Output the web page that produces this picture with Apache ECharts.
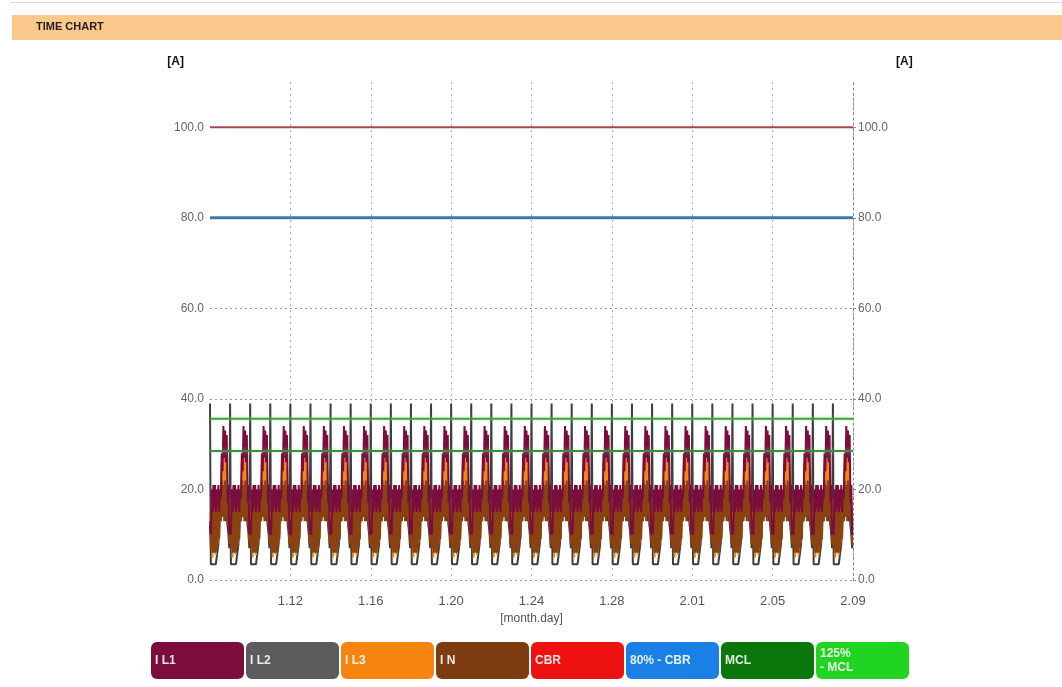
<!DOCTYPE html>
<html>
<head>
<meta charset="utf-8">
<title>Time chart</title>
<script src="https://cdn.jsdelivr.net/npm/echarts@6/dist/echarts.min.js"></script>
<style>
  html, body { margin: 0; padding: 0; background: #fff; }
  #chart { width: 1062px; height: 687px; }
</style>
</head>
<body>
<div id="chart"></div>
<script>
// time axis: one label every 4 days, starting at 1.08 (hidden)
const xTickLabels = ['1.08', '1.12', '1.16', '1.20', '1.24', '1.28', '2.01', '2.05', '2.09']
const dayCount = 32

// one day of current, hour 0..23 (every day looks the same)
const il1Day = [12, 10, 20, 15, 21, 16, 21, 15, 20, 16, 21, 15, 20, 18, 28, 24, 34, 27, 33, 26, 32, 17, 21, 10]
const il2Day = [39, 3.5, 3.5, 3.5, 3.5, 3.5, 3.5, 3.5, 3.5, 3.5, 8, 12, 15, 13, 18, 14, 20, 16, 19, 13, 17, 12, 10, 7]
const il3Day = [15, 9, 18, 5, 19, 8, 17, 5.5, 19, 8, 18, 10, 20, 16, 26, 19, 28, 18, 27, 19, 25, 14, 18, 9]
const inDay = [13, 7, 17, 6, 18, 6, 16, 6, 18, 7, 17, 9, 19, 13, 22, 14, 21, 13, 22, 14, 20, 12, 17, 8]

// limits [A]
const cbr = 100
const cbr80 = 80
const mcl = 28.5
const mcl125 = 35.6

const legendItems = [
  { name: 'I L1', color: '#7b0c3c' },
  { name: 'I L2', color: '#5c5c5c' },
  { name: 'I L3', color: '#f5850f' },
  { name: 'I N', color: '#7c3c10' },
  { name: 'CBR', color: '#ee1111' },
  { name: '80% - CBR', color: '#1a80e6' },
  { name: 'MCL', color: '#0b760b' },
  { name: '125% - MCL', color: '#22d422' }
]

function buildDays (profile) {
  const out = []
  for (let d = 0; d < dayCount; d++) {
    profile.forEach((v, h) => out.push([d + h / 24, v]))
  }
  return out
}

function limitLine (v) {
  return [[0, v], [dayCount, v]]
}

const chart = echarts.init(document.getElementById('chart'))

const axisFont = { fontFamily: 'Liberation Sans', fontSize: 12, color: '#666' }

chart.setOption({
  animation: false,
  grid: { left: 210, right: 209, top: 82, bottom: 107 },
  graphic: [
    { type: 'rect', shape: { x: 10, y: 2, width: 1052, height: 1 }, style: { fill: '#dddddd' } },
    { type: 'rect', shape: { x: 12, y: 15, width: 1050, height: 25 }, style: { fill: '#fbc88b' } },
    {
      type: 'text',
      left: 36,
      top: 21,
      style: { text: 'TIME CHART', font: 'bold 11px Liberation Sans', fill: '#222' }
    }
  ],
  legend: {
    left: 141,
    top: 637,
    icon: 'none',
    itemWidth: 0,
    itemGap: -3,
    selectedMode: false,
    formatter: name => name === '125% - MCL' ? '125%\n- MCL' : name,
    textStyle: {
      width: 85,
      height: 37,
      lineHeight: 14,
      padding: [0, 4],
      borderRadius: 6,
      color: 'rgba(255,255,255,0.88)',
      fontWeight: 'bold',
      fontSize: 12,
      fontFamily: 'Liberation Sans'
    },
    data: legendItems.map(it => ({ name: it.name, textStyle: { backgroundColor: it.color } }))
  },
  xAxis: {
    type: 'value',
    min: 0,
    max: dayCount,
    interval: 4,
    name: '[month.day]',
    nameLocation: 'middle',
    nameGap: 33,
    nameTextStyle: { ...axisFont, color: '#555' },
    axisLine: { show: false },
    axisTick: { show: false },
    axisLabel: {
      ...axisFont,
      fontSize: 13,
      color: '#555',
      margin: 15,
      showMinLabel: false,
      formatter: v => xTickLabels[Math.round(v / 4)]
    },
    splitLine: { show: true, showMinLine: false, lineStyle: { color: '#aaa', type: [2, 4] } }
  },
  yAxis: [
    {
      type: 'value',
      min: 0,
      max: 110,
      interval: 20,
      name: '[A]',
      nameGap: 14,
      nameTextStyle: { fontFamily: 'Liberation Sans', fontWeight: 'bold', fontSize: 12, color: '#111', align: 'right', padding: [0, 26, 0, 0] },
      axisLine: { show: false },
      axisTick: { show: false },
      axisLabel: { ...axisFont, margin: 6, showMaxLabel: false, formatter: v => v.toFixed(1) },
      splitLine: { show: true, showMaxLine: false, lineStyle: { color: '#999', type: [2, 3] } }
    },
    {
      type: 'value',
      min: 0,
      max: 110,
      interval: 20,
      position: 'right',
      name: '[A]',
      nameGap: 14,
      nameTextStyle: { fontFamily: 'Liberation Sans', fontWeight: 'bold', fontSize: 12, color: '#111', align: 'left', padding: [0, 0, 0, 43] },
      axisLine: { show: true, lineStyle: { color: '#888', type: [2, 3] } },
      axisTick: { show: true, length: 3, lineStyle: { color: '#888' } },
      axisLabel: { ...axisFont, margin: 5, showMaxLabel: false, formatter: v => v.toFixed(1) },
      splitLine: { show: false }
    }
  ],
  series: [
    { name: 'I L2', type: 'line', data: buildDays(il2Day), showSymbol: false, lineStyle: { width: 2, color: '#3e3e3e' }, itemStyle: { color: '#5c5c5c' } },
    { name: 'I L3', type: 'line', data: buildDays(il3Day), showSymbol: false, lineStyle: { width: 2, color: '#f08818' }, itemStyle: { color: '#f5850f' } },
    { name: 'I N', type: 'line', data: buildDays(inDay), showSymbol: false, lineStyle: { width: 2, color: '#8a4210' }, itemStyle: { color: '#7c3c10' } },
    { name: 'I L1', type: 'line', data: buildDays(il1Day), showSymbol: false, lineStyle: { width: 2, color: '#7b0c3c' }, itemStyle: { color: '#7b0c3c' } },
    { name: 'CBR', type: 'line', data: limitLine(cbr), showSymbol: false, lineStyle: { width: 2, color: '#a8464e' }, itemStyle: { color: '#ee1111' } },
    { name: '80% - CBR', type: 'line', data: limitLine(cbr80), showSymbol: false, lineStyle: { width: 3, color: '#3a7ba6' }, itemStyle: { color: '#1a80e6' } },
    { name: 'MCL', type: 'line', data: limitLine(mcl), showSymbol: false, lineStyle: { width: 2, color: '#3f8a45', shadowColor: 'rgba(120,230,120,0.6)', shadowBlur: 4 }, itemStyle: { color: '#0b760b' } },
    { name: '125% - MCL', type: 'line', data: limitLine(mcl125), showSymbol: false, lineStyle: { width: 2, color: '#449a44', shadowColor: 'rgba(120,230,120,0.6)', shadowBlur: 4 }, itemStyle: { color: '#22d422' } }
  ]
})
</script>
</body>
</html>
